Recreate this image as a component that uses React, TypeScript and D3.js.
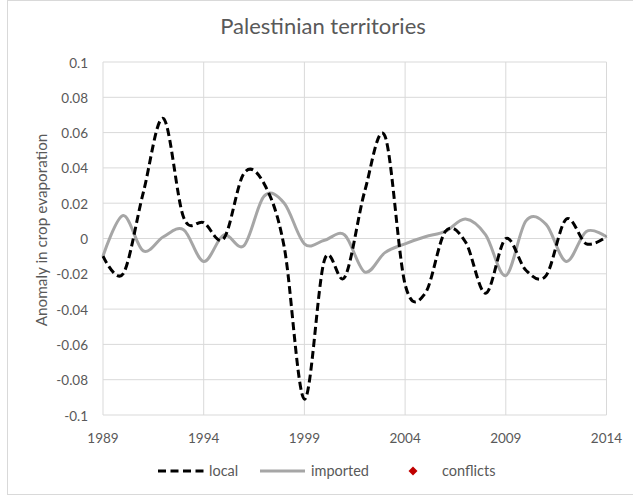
import React from "react";
import * as d3 from "d3";

const years = [1989,1990,1991,1992,1993,1994,1995,1996,1997,1998,1999,2000,2001,2002,2003,2004,2005,2006,2007,2008,2009,2010,2011,2012,2013,2014];
const local = [-0.010,-0.020,0.026,0.068,0.012,0.009,0.000,0.037,0.031,-0.005,-0.091,-0.012,-0.022,0.027,0.058,-0.026,-0.031,0.004,-0.002,-0.031,0.000,-0.018,-0.021,0.011,-0.003,0.001];
const imported = [-0.010,0.013,-0.007,0.001,0.005,-0.013,0.002,-0.004,0.024,0.020,-0.003,-0.001,0.002,-0.019,-0.008,-0.003,0.001,0.004,0.011,0.002,-0.021,0.010,0.008,-0.013,0.004,0.001];
const yTicks = [-0.1,-0.08,-0.06,-0.04,-0.02,0,0.02,0.04,0.06,0.08,0.1];
const xTicks = [1989,1994,1999,2004,2009,2014];

const FONT = "Lato, 'Open Sans', sans-serif";
const TXT = "#595959";
const GRID = "#d9d9d9";

export default function App() {
  const x = d3.scaleLinear().domain([1989, 2014]).range([103, 606.5]);
  const y = d3.scaleLinear().domain([-0.1, 0.1]).range([415, 62]);
  const line = d3
    .line<number>()
    .x((_, i) => x(years[i]))
    .y((d) => y(d))
    .curve(d3.curveCatmullRom.alpha(0));
  const fmt = (v: number) => (Math.abs(v) < 1e-9 ? "0" : String(+v.toFixed(2)));
  const diamond = "M0,-4.5L4.5,0L0,4.5L-4.5,0Z";

  return (
    <svg width={633} height={504} style={{ position: "absolute", left: 0, top: 0, background: "#fff" }}>
      <rect x={7.5} y={0.5} width={630} height={494} fill="#fff" stroke={GRID} />
      <text x={323} y={34} textAnchor="middle" fontFamily={FONT} fontSize={22} fill={TXT}>
        Palestinian territories
      </text>
      {yTicks.map((t) => (
        <g key={t}>
          <line x1={103} x2={606.5} y1={y(t)} y2={y(t)} stroke={GRID} strokeWidth={1} />
          <text x={88} y={y(t) + 5.5} textAnchor="end" fontFamily={FONT} fontSize={13.5} fill={TXT}>
            {fmt(t)}
          </text>
        </g>
      ))}
      {xTicks.map((t) => (
        <g key={t}>
          <line x1={x(t)} x2={x(t)} y1={62} y2={415} stroke={GRID} strokeWidth={1} />
          <text x={x(t)} y={443} textAnchor="middle" fontFamily={FONT} fontSize={13.5} fill={TXT}>
            {t}
          </text>
        </g>
      ))}
      <text
        transform={`translate(47,230) rotate(-90)`}
        textAnchor="middle"
        fontFamily={FONT}
        fontSize={15.3}
        fill={TXT}
      >
        Anomaly in crop evaporation
      </text>
      <path d={line(imported) || ""} fill="none" stroke="#a6a6a6" strokeWidth={3} />
      <path d={line(local) || ""} fill="none" stroke="#000" strokeWidth={3} strokeDasharray="8,4" />
      <g fontFamily={FONT} fontSize={14.5} fill={TXT}>
        <line x1={158} x2={204} y1={471} y2={471} stroke="#000" strokeWidth={3} strokeDasharray="8,4.5" />
        <text x={209} y={476}>local</text>
        <line x1={260} x2={305} y1={471} y2={471} stroke="#a6a6a6" strokeWidth={3} />
        <text x={311} y={476}>imported</text>
        <path d={diamond} transform="translate(413,471)" fill="#c00000" />
        <text x={442} y={476}>conflicts</text>
      </g>
    </svg>
  );
}
